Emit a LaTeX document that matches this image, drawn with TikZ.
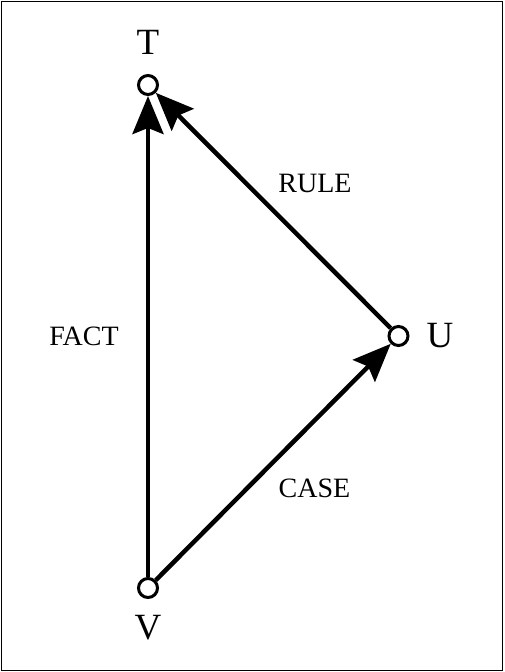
\documentclass[tikz,border=0pt]{standalone}
\usepackage{fontspec}
\setmainfont{Liberation Serif}
\usetikzlibrary{arrows.meta}
\tikzset{
  vert/.style={circle,draw,fill=white,minimum size=19pt,inner sep=0pt,line width=3pt},
  vlabel/.style={font=\fontsize{37}{40}\selectfont,inner sep=0pt},
  elabel/.style={font=\fontsize{28}{30}\selectfont,inner sep=0pt},
  edge/.style={line width=4.5pt,-{Stealth[length=38pt,width=31pt,inset=6pt]}}
}
\begin{document}
\begin{tikzpicture}[x=1pt,y=-1pt]
\useasboundingbox (0,0) rectangle (504,672);
\draw[line width=1.3pt] (1.2,1.2) rectangle (502.6,670.6);
\node[vert] (T) at (148,85) {};
\node[vert] (U) at (398.5,336) {};
\node[vert] (V) at (148,588) {};
\node[vlabel] (Tl) at (148,42) {T};
\node[vlabel] (Ul) at (440,336) {U};
\node[vlabel] (Vl) at (148,628) {V};
\draw[edge] (V) -- (T);
\draw[edge] (U) -- (T);
\draw[edge] (V) -- (U);
\node[elabel] (fact) at (84,336) {FACT};
\node[elabel] (rule) at (315,183) {RULE};
\node[elabel] (case) at (314.5,488) {CASE};
\end{tikzpicture}
\end{document}
